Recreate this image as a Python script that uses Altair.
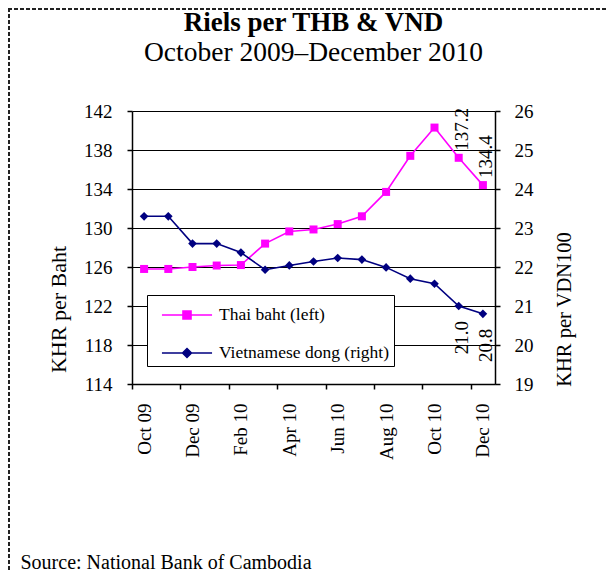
import altair as alt
import pandas as pd

months = ["Oct 09", "Nov 09", "Dec 09", "Jan 10", "Feb 10", "Mar 10", "Apr 10",
          "May 10", "Jun 10", "Jul 10", "Aug 10", "Sep 10", "Oct 10", "Nov 10", "Dec 10"]
thb = [125.8, 125.8, 126.0, 126.15, 126.2, 128.4, 129.65, 129.85, 130.4, 131.2,
       133.7, 137.4, 140.3, 137.2, 134.4]
vnd = [23.3, 23.3, 22.6, 22.6, 22.37, 21.93, 22.04, 22.14, 22.23, 22.19,
       21.99, 21.70, 21.57, 21.0, 20.8]
label_months = ["Nov 10", "Dec 10"]
tick_months = months[::2]
series = ["Thai baht (left)", "Vietnamese dong (right)"]
colors = ["#FF00FF", "#000080"]
left_ticks = [114, 118, 122, 126, 130, 134, 138, 142]
right_ticks = [19, 20, 21, 22, 23, 24, 25, 26]

FONT = "Liberation Serif"
W, H = 363, 273
BW = W / len(months)

df = pd.DataFrame({"month": months, "thb": thb, "vnd": vnd})

x_enc = alt.X(
    "month:O", sort=months,
    scale=alt.Scale(type="point", padding=0.5, domain=months),
    axis=alt.Axis(
        values=tick_months, labelAngle=270, labelAlign="right", labelBaseline="middle",
        labelPadding=14, tickSize=5, tickOffset=-BW / 2, labelOffset=BW / 2,
        labelFont=FONT, labelFontSize=19, labelColor="black",
        domainColor="black", domainWidth=1.5, tickColor="black", tickWidth=1.5,
        title="Source: National Bank of Cambodia", titleX=-112, titleY=184,
        titleAlign="left", titleBaseline="alphabetic", titleAngle=0,
        titleFont=FONT, titleFontSize=20, titleFontWeight="normal", titleColor="black",
    ),
)

left_axis = alt.Axis(
    values=left_ticks, grid=True, gridColor="black", gridWidth=1.2,
    domainColor="black", domainWidth=1.5, tickColor="black", tickWidth=1.5, tickSize=5,
    labelPadding=15, labelFont=FONT, labelFontSize=19, labelColor="black",
    title="KHR per Baht", titleX=-74, titleY=198, titleAngle=270,
    titleAlign="center", titleBaseline="middle", titleFont=FONT, titleFontSize=22,
    titleFontWeight="normal", titleColor="black",
)
right_axis = alt.Axis(
    orient="right", values=right_ticks, grid=False,
    domainColor="black", domainWidth=1.5, tickColor="black", tickWidth=1.5, tickSize=5,
    labelPadding=14, labelFont=FONT, labelFontSize=19, labelColor="black",
    title="KHR per VDN100", titleX=69, titleY=198, titleAngle=270,
    titleAlign="center", titleBaseline="middle", titleFont=FONT, titleFontSize=20.5,
    titleFontWeight="normal", titleColor="black",
)

base = alt.Chart(df)
yl = alt.Scale(domain=[114, 142], nice=False, zero=False)
yr = alt.Scale(domain=[19, 26], nice=False, zero=False)

thai_line = base.mark_line(
    color=colors[0], strokeWidth=1.6,
    point=alt.OverlayMarkDef(shape="square", size=64, filled=True, color=colors[0], opacity=1),
).encode(x=x_enc, y=alt.Y("thb:Q", scale=yl, axis=left_axis))

thai_lab = base.transform_filter(
    alt.FieldOneOfPredicate(field="month", oneOf=label_months)
).mark_text(angle=270, align="left", baseline="middle", dx=7, dy=3,
            font=FONT, fontSize=19, color="black").encode(
    x=x_enc, y=alt.Y("thb:Q", scale=yl, axis=left_axis), text=alt.Text("thb:Q", format=".1f"))

vnd_line = base.mark_line(
    color=colors[1], strokeWidth=1.6,
    point=alt.OverlayMarkDef(shape="diamond", size=75, filled=True, color=colors[1], opacity=1),
).encode(x=x_enc, y=alt.Y("vnd:Q", scale=yr, axis=right_axis))

vnd_lab = base.transform_filter(
    alt.FieldOneOfPredicate(field="month", oneOf=label_months)
).mark_text(angle=270, align="right", baseline="middle", dx=-15, dy=3,
            font=FONT, fontSize=19, color="black").encode(
    x=x_enc, y=alt.Y("vnd:Q", scale=yr, axis=right_axis), text=alt.Text("vnd:Q", format=".1f"))

paths = [
    "M-1.67,0L1.67,0M-0.27,-0.27L0.27,-0.27L0.27,0.27L-0.27,0.27Z",
    "M-1.67,0L1.67,0M0,-0.3L0.3,0L0,0.3L-0.3,0Z",
]
leg_props = dict(
    title=None, orient="none", legendX=15, legendY=184, strokeColor="black",
    fillColor="white", padding=4, symbolOffset=20, labelOffset=16, rowPadding=13,
    symbolSize=900, symbolStrokeWidth=1.5, labelFont=FONT, labelFontSize=17.5,
    labelColor="black", labelLimit=400,
    labelExpr="datum.label + '\u00a0\u00a0\u00a0\u00a0\u00a0\u00a0'",
)
legend_layer = alt.Chart(pd.DataFrame({"series": series})).transform_filter("false").mark_point(
    filled=True, opacity=1, strokeWidth=1.5
).encode(
    fill=alt.Fill("series:N", scale=alt.Scale(domain=series, range=colors), legend=alt.Legend(**leg_props)),
    stroke=alt.Stroke("series:N", scale=alt.Scale(domain=series, range=colors), legend=alt.Legend(**leg_props)),
    shape=alt.Shape("series:N", scale=alt.Scale(domain=series, range=paths), legend=alt.Legend(**leg_props)),
)

border_left = alt.Chart(df).mark_rule(color="#222", strokeWidth=2, strokeDash=[4, 2]).encode(
    x=alt.value(-123), y=alt.value(-103), y2=alt.value(460))
border_top = alt.Chart(df).mark_rule(color="#222", strokeWidth=2, strokeDash=[4, 2]).encode(
    x=alt.value(-124), x2=alt.value(W + 113), y=alt.value(-102))

chart = alt.layer(
    alt.layer(thai_line, thai_lab),
    alt.layer(vnd_line, vnd_lab),
    legend_layer, border_left, border_top,
).resolve_scale(y="independent").properties(
    width=W, height=H,
    title=alt.TitleParams(
        text="Riels per THB & VND", subtitle="October 2009–December 2010",
        font=FONT, fontSize=27, fontWeight="bold", color="black",
        subtitleFont=FONT, subtitleFontSize=27.5, subtitleColor="black",
        anchor="middle", offset=-60, subtitlePadding=2,
    ),
    autosize=alt.AutoSizeParams(type="none"),
    padding={"left": 124, "top": 103, "right": 113, "bottom": 187},
).configure_view(stroke=None)

chart.save("out.html", embed_options={"renderer": "svg", "actions": False})
